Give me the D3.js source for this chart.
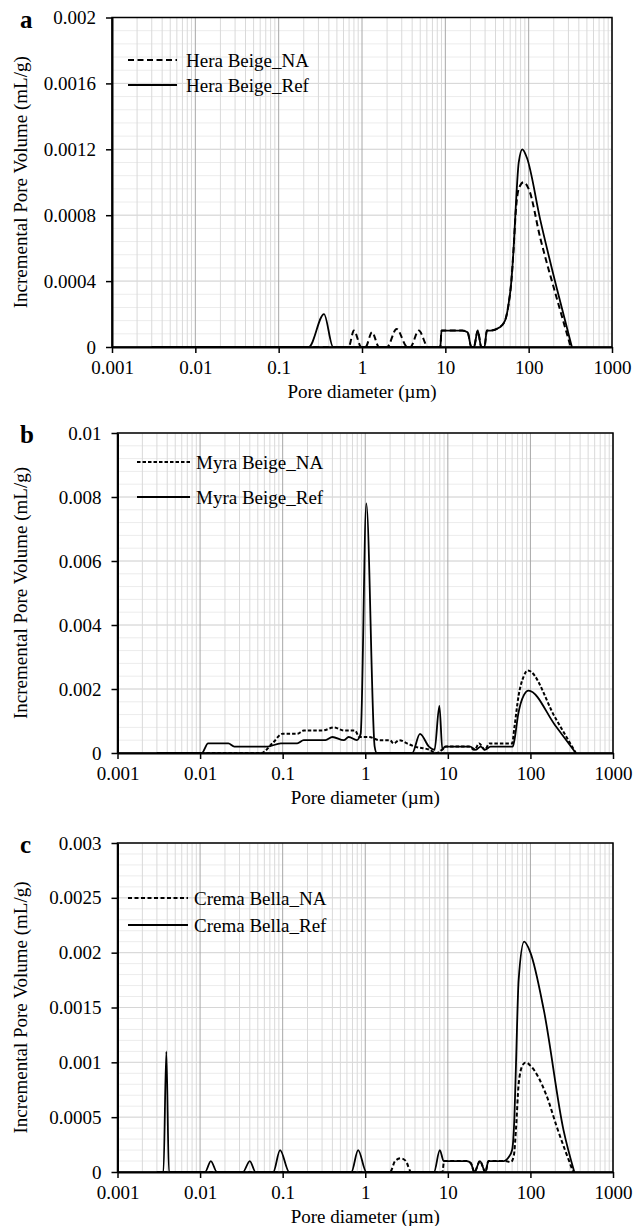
<!DOCTYPE html>
<html>
<head>
<meta charset="utf-8">
<script src="https://cdn.jsdelivr.net/npm/d3@7"></script>
<style>
  body { margin: 0; background: #fff; }
  svg { display: block; }
  text { font-family: "Liberation Serif", "Times New Roman", serif; fill: #000; }
</style>
</head>
<body>
<svg id="chart" width="633" height="1226"></svg>
<script>
// shared x axis (pore diameter, um)
var xTicks = [0.001, 0.01, 0.1, 1, 10, 100, 1000];
var xTickLabels = ["0.001", "0.01", "0.1", "1", "10", "100", "1000"];

// panel a - Hera Beige
var heraYTicks = [0, 0.0004, 0.0008, 0.0012, 0.0016, 0.002];
var heraYLabels = ["0", "0.0004", "0.0008", "0.0012", "0.0016", "0.002"];
var heraNaD = [0.003, 0.69, 0.8, 0.98, 1.1, 1.32, 1.6, 2.0, 2.6, 3.5, 3.8, 4.8, 6.2, 8.7, 9.0, 10, 16, 18.5, 20.5, 22, 24.5, 27, 29.5, 31.5, 35, 45, 52, 57, 62, 66, 70, 76, 87, 100, 138, 219, 320];
var heraNaV = [0, 0, 0.0001, 0, 0, 0.00009, 0, 0, 0.00011, 0, 0, 0.0001, 0, 0, 0.0001, 0.0001, 0.0001, 0.00009, 0, 0, 0.0001, 0, 0, 0.0001, 0.0001, 0.00012, 0.00016, 0.00025, 0.0004, 0.0006, 0.00082, 0.00096, 0.001, 0.00096, 0.00066, 0.00029, 0];
var heraRefD = [0.003, 0.23, 0.35, 0.45, 8.7, 9.0, 10, 16, 18.5, 20.5, 22, 24.5, 27, 29.5, 31.5, 35, 45, 52, 57, 62, 66, 70, 76, 84, 95, 138, 219, 330];
var heraRefV = [0, 0, 0.0002, 0, 0, 0.0001, 0.0001, 0.0001, 0.00009, 0, 0, 0.0001, 0, 0, 0.0001, 0.0001, 0.00012, 0.00016, 0.00025, 0.0004, 0.0006, 0.00085, 0.00112, 0.0012, 0.00115, 0.00077, 0.00035, 0];

// panel b - Myra Beige
var myraYTicks = [0, 0.002, 0.004, 0.006, 0.008, 0.01];
var myraYLabels = ["0", "0.002", "0.004", "0.006", "0.008", "0.01"];
var myraNaD = [0.003, 0.055, 0.075, 0.1, 0.15, 0.18, 0.3, 0.42, 0.55, 0.75, 0.85, 1.1, 1.5, 2.0, 2.2, 2.6, 3.2, 4.0, 6.0, 7.2, 8.5, 9.5, 18, 21, 24, 28, 32, 60, 64, 72, 83, 93, 200, 355];
var myraNaV = [0, 0, 0.0003, 0.0006, 0.0006, 0.0007, 0.0007, 0.0008, 0.0007, 0.0007, 0.0005, 0.0005, 0.0004, 0.0004, 0.0003, 0.0004, 0.0003, 0.0002, 0.0001, 0, 0.0001, 0.0002, 0.0002, 0.0001, 0.0003, 0.0001, 0.0003, 0.0003, 0.0008, 0.0018, 0.0024, 0.00258, 0.0011, 0];
var myraRefD = [0.003, 0.0105, 0.0125, 0.014, 0.022, 0.026, 0.065, 0.095, 0.15, 0.18, 0.33, 0.4, 0.55, 0.63, 0.79, 0.88, 1.03, 1.3, 1.38, 3.7, 4.6, 5.9, 6.9, 7.9, 8.6, 9.2, 18.6, 21.8, 25, 28, 33, 61, 64, 71, 83, 95, 200, 355];
var myraRefV = [0, 0, 0.0003, 0.0003, 0.0003, 0.0002, 0.0002, 0.0003, 0.0003, 0.0004, 0.0004, 0.0005, 0.0004, 0.0005, 0.0004, 0.0006, 0.0078, 0.0002, 0, 0, 0.0006, 0.0002, 0.0001, 0.00147, 0.0001, 0.0002, 0.0002, 0.0001, 0.0002, 0.0001, 0.0002, 0.0002, 0.0004, 0.0012, 0.0018, 0.00195, 0.00086, 0];

// panel c - Crema Bella
var cremaYTicks = [0, 0.0005, 0.001, 0.0015, 0.002, 0.0025, 0.003];
var cremaYLabels = ["0", "0.0005", "0.001", "0.0015", "0.002", "0.0025", "0.003"];
var cremaNaD = [0.003, 2.0, 2.3, 2.7, 3.1, 3.6, 8.6, 9.0, 17, 19, 21, 24.5, 28.5, 31, 50, 58, 63, 67, 72, 80, 88, 100, 158, 209, 330];
var cremaNaV = [0, 0, 0.0001, 0.000125, 0.0001, 0, 0, 0.0001, 0.0001, 0.00008, 0, 0.0001, 0, 0.0001, 0.0001, 0.00009, 0.00015, 0.0004, 0.0008, 0.00097, 0.001, 0.00097, 0.00069, 0.00041, 0];
var cremaRefD = [0.003, 0.0036, 0.0039, 0.0042, 0.0115, 0.0135, 0.016, 0.033, 0.04, 0.047, 0.077, 0.093, 0.12, 0.68, 0.82, 1.03, 6.8, 8.0, 8.9, 17, 19, 21, 24.5, 28.5, 31, 47, 55, 60, 64, 67, 72, 84, 100, 145, 252, 340];
var cremaRefV = [0, 0, 0.0011, 0, 0, 0.0001, 0, 0, 0.0001, 0, 0, 0.0002, 0, 0, 0.0002, 0, 0, 0.0002, 0.0001, 0.0001, 0.00008, 0, 0.0001, 0, 0.0001, 0.0001, 0.00014, 0.0002, 0.0005, 0.001, 0.00175, 0.0021, 0.002, 0.00148, 0.00038, 0];

var panels = [
  { label: "a", left: 112, right: 612, top: 17.5, bottom: 347, yTicks: heraYTicks, yLabels: heraYLabels,
    na: [heraNaD, heraNaV], ref: [heraRefD, heraRefV], names: ["Hera Beige_NA", "Hera Beige_Ref"],
    legY: [60, 85], legX: [128, 177, 186], dash: "6,3.5" },
  { label: "b", left: 117.5, right: 613, top: 433, bottom: 753, yTicks: myraYTicks, yLabels: myraYLabels,
    na: [myraNaD, myraNaV], ref: [myraRefD, myraRefV], names: ["Myra Beige_NA", "Myra Beige_Ref"],
    legY: [462, 497], legX: [137, 190, 196], dash: "3.5,2" },
  { label: "c", left: 117.5, right: 613, top: 843, bottom: 1172, yTicks: cremaYTicks, yLabels: cremaYLabels,
    na: [cremaNaD, cremaNaV], ref: [cremaRefD, cremaRefV], names: ["Crema Bella_NA", "Crema Bella_Ref"],
    legY: [898, 925], legX: [128, 188, 194], dash: "4,2.5" }
];

var svg = d3.select("#chart");

panels.forEach(function(p, pi) {
  var x = d3.scaleLog().domain([0.001, 1000]).range([p.left, p.right]);
  var yMax = p.yTicks[p.yTicks.length - 1];
  var y = d3.scaleLinear().domain([0, yMax]).range([p.bottom, p.top]);
  var g = svg.append("g");

  // grid: minor horizontals (major step / 5)
  var step = p.yTicks[1] / 5;
  var hMinor = d3.range(1, Math.round(yMax / step)).map(function(i) { return i * step; });
  g.selectAll(".hmin").data(hMinor).enter().append("line")
    .attr("x1", p.left).attr("x2", p.right)
    .attr("y1", function(d) { return y(d); }).attr("y2", function(d) { return y(d); })
    .attr("stroke", "#ececec").attr("stroke-width", 1);
  g.selectAll(".hmaj").data(p.yTicks).enter().append("line")
    .attr("x1", p.left).attr("x2", p.right)
    .attr("y1", function(d) { return y(d); }).attr("y2", function(d) { return y(d); })
    .attr("stroke", "#d6d6d6").attr("stroke-width", 1);

  // vertical minor + major lines on the log axis
  var vMinor = [];
  xTicks.slice(0, -1).forEach(function(t) {
    for (var m = 2; m <= 9; m++) vMinor.push(t * m);
  });
  g.selectAll(".vmin").data(vMinor).enter().append("line")
    .attr("x1", function(d) { return x(d); }).attr("x2", function(d) { return x(d); })
    .attr("y1", p.top).attr("y2", p.bottom)
    .attr("stroke", "#d9d9d9").attr("stroke-width", 1);
  g.selectAll(".vmaj").data(xTicks).enter().append("line")
    .attr("x1", function(d) { return x(d); }).attr("x2", function(d) { return x(d); })
    .attr("y1", p.top).attr("y2", p.bottom)
    .attr("stroke", "#a8a8a8").attr("stroke-width", 1);

  // frame
  g.append("rect")
    .attr("x", p.left).attr("y", p.top)
    .attr("width", p.right - p.left).attr("height", p.bottom - p.top)
    .attr("fill", "none").attr("stroke", "#000").attr("stroke-width", 1.5);

  // axes
  var xAxis = d3.axisBottom(x).tickValues(xTicks)
    .tickFormat(function(d, i) { return xTickLabels[i]; })
    .tickSizeInner(6).tickSizeOuter(0).tickPadding(8);
  var xg = g.append("g").attr("transform", "translate(0," + p.bottom + ")").call(xAxis);
  xg.select(".domain").attr("stroke-width", 2);
  xg.selectAll(".tick line").attr("stroke-width", 1.5);
  xg.selectAll("text").attr("font-size", 19).attr("font-family", "Liberation Serif");

  var yAxis = d3.axisLeft(y).tickValues(p.yTicks)
    .tickFormat(function(d, i) { return p.yLabels[i]; })
    .tickSizeInner(6).tickSizeOuter(0).tickPadding(10);
  var yg = g.append("g").attr("transform", "translate(" + p.left + ",0)").call(yAxis);
  yg.select(".domain").attr("stroke-width", 2);
  yg.selectAll(".tick line").attr("stroke-width", 1.5);
  yg.selectAll("text").attr("font-size", 19).attr("font-family", "Liberation Serif");

  // axis titles
  g.append("text")
    .attr("x", (p.left + p.right) / 2).attr("y", p.bottom + 51)
    .attr("text-anchor", "middle").attr("font-size", 19)
    .text("Pore diameter (\u00b5m)");
  g.append("text")
    .attr("transform", "translate(20," + (p.top + p.bottom) / 2 + ") rotate(-90)")
    .attr("text-anchor", "middle").attr("dy", "0.35em").attr("font-size", 19)
    .text("Incremental Pore Volume (mL/g)");

  // panel letter
  g.append("text")
    .attr("x", 20).attr("y", p.top + 10)
    .attr("font-size", 25).attr("font-weight", "bold")
    .text(p.label);

  // curves
  g.append("clipPath").attr("id", "clip" + pi).append("rect")
    .attr("x", p.left).attr("y", p.top - 2)
    .attr("width", p.right - p.left).attr("height", p.bottom - p.top + 4);

  var line = d3.line()
    .x(function(d) { return x(d[0]); })
    .y(function(d) { return y(d[1]); })
    .curve(d3.curveMonotoneX);

  var naPts = d3.zip(p.na[0], p.na[1]);
  var refPts = d3.zip(p.ref[0], p.ref[1]);

  g.append("path").datum(naPts)
    .attr("clip-path", "url(#clip" + pi + ")")
    .attr("d", line).attr("fill", "none")
    .attr("stroke", "#000").attr("stroke-width", 2)
    .attr("stroke-dasharray", p.dash);
  g.append("path").datum(refPts)
    .attr("clip-path", "url(#clip" + pi + ")")
    .attr("d", line).attr("fill", "none")
    .attr("stroke", "#000").attr("stroke-width", 1.8);

  // legend
  [0, 1].forEach(function(k) {
    g.append("line")
      .attr("x1", p.legX[0]).attr("x2", p.legX[1])
      .attr("y1", p.legY[k]).attr("y2", p.legY[k])
      .attr("stroke", "#000").attr("stroke-width", k === 0 ? 2 : 1.8)
      .attr("stroke-dasharray", k === 0 ? p.dash : null);
    g.append("text")
      .attr("x", p.legX[2]).attr("y", p.legY[k])
      .attr("dy", "0.35em").attr("font-size", 19)
      .text(p.names[k]);
  });
});
</script>
</body>
</html>
